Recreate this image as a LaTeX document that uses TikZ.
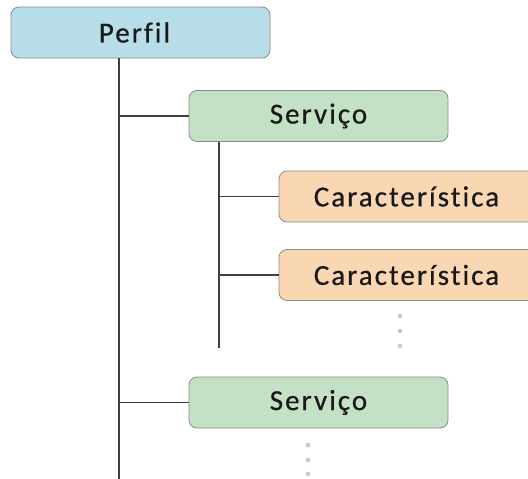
\documentclass[tikz,border=0pt]{standalone}
\usepackage{fontspec}
\setmainfont{Carlito}[LetterSpace=7, Ligatures=NoCommon, FakeBold=0.6]
\usepackage{xcolor}
\definecolor{perfilblue}{HTML}{B7DEE8}
\definecolor{servgreen}{HTML}{C4E1C6}
\definecolor{caracorange}{HTML}{FAD7B3}
\definecolor{boxborder}{HTML}{8C8C8C}
\definecolor{linegray}{HTML}{404040}
\definecolor{dotgray}{HTML}{C8C8C8}
\tikzset{box/.style={draw=boxborder, rounded corners=8pt, line width=0.8pt,
   minimum width=259pt, minimum height=51pt, inner sep=0pt,
   text=black!90, font=\fontsize{29}{32}\selectfont},
 perfil/.style={box, fill=perfilblue},
 servico/.style={box, fill=servgreen},
 carac/.style={box, fill=caracorange},
 branch/.style={draw=linegray, line width=1.4pt},
 }

\begin{document}
\begin{tikzpicture}[x=1pt, y=-1pt]
        \useasboundingbox (0,0) rectangle (528,479);
        \node[perfil] (perfil) at (140.5, 32.5) {\hspace*{-12pt}Perfil};
        \node[servico] (serv1) at (318.5, 116) {Serviço};
        \node[carac] (carac1) at (408.5, 196.5) {\hspace*{-4pt}Característica};
        \node[carac] (carac2) at (408.5, 275) {\hspace*{-4pt}Característica};
        \node[servico] (serv2) at (318.5, 402.5) {Serviço};
        \coordinate (trunkend) at (119, 479);
        \coordinate (servend) at (219, 348);
        \draw[branch] (perfil.south -| trunkend) -- (trunkend);
        \draw[branch] (trunkend |- serv1.west) -- (serv1.west);
        \draw[branch] (trunkend |- serv2.west) -- (serv2.west);
        \draw[branch] (serv1.south -| servend) -- (servend);
        \draw[branch] (servend |- carac1.west) -- (carac1.west);
        \draw[branch] (servend |- carac2.west) -- (carac2.west);
        \foreach \y in {316, 331, 346} \fill[dotgray] (400, \y) circle (2.3pt);
        \foreach \y in {445, 460, 474} \fill[dotgray] (308, \y) circle (2.3pt);
    \end{tikzpicture}
\end{document}
